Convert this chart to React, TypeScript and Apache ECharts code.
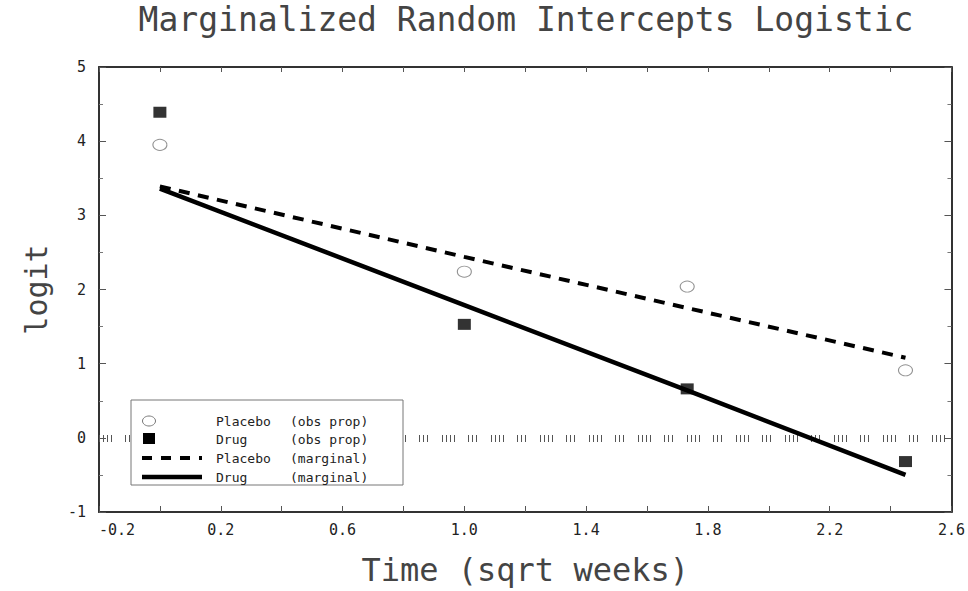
import React, { useEffect, useRef } from 'react';
import * as echarts from 'echarts';

const times = [0, 1, 1.732, 2.449];
const placeboObs = [3.95, 2.24, 2.04, 0.91];
const drugObs = [4.39, 1.53, 0.66, -0.32];
const placeboMarginal = [3.39, 2.44, 1.75, 1.08];
const drugMarginal = [3.36, 1.79, 0.64, -0.5];
const xTickLabels = ['-0.2', '0.2', '0.6', '1.0', '1.4', '1.8', '2.2', '2.6'];
const yTickLabels = ['-1', '0', '1', '2', '3', '4', '5'];
const legendNames = ['Placebo', 'Drug', 'Placebo', 'Drug'];
const legendTags = ['(obs prop)', '(obs prop)', '(marginal)', '(marginal)'];
const titleText = 'Marginalized Random Intercepts Logistic';
const xTitle = 'Time (sqrt weeks)';
const yTitle = 'logit';

const MONO = '"DejaVu Sans Mono", "Liberation Mono", monospace';

export default function App() {
  const ref = useRef<HTMLDivElement>(null);
  useEffect(() => {
    if (!ref.current) return;
    const chart = echarts.init(ref.current, undefined, { renderer: 'svg' });
    const zip = (ys: number[]) => times.map((t, i) => [t, ys[i]]);
    const axisLineStyle = { color: '#333', width: 2 };
    const rugDash = [1, 3, 1, 3, 1, 3, 1, 13, 1, 3, 1, 3, 1, 14];
    const legendRows = [421, 439, 458, 477];
    const legendGraphic: any[] = [
      {
        type: 'rect',
        z: 100,
        shape: { x: 131, y: 400, width: 272, height: 85 },
        style: { fill: '#fff', stroke: '#777', lineWidth: 1 },
      },
      {
        type: 'ellipse',
        z: 101,
        shape: { cx: 149, cy: legendRows[0], rx: 6.5, ry: 5 },
        style: { fill: '#fff', stroke: '#777', lineWidth: 1 },
      },
      {
        type: 'rect',
        z: 101,
        shape: { x: 143, y: legendRows[1] - 6, width: 12, height: 11 },
        style: { fill: '#000' },
      },
      {
        type: 'line',
        z: 101,
        shape: { x1: 142, y1: legendRows[2], x2: 202, y2: legendRows[2] },
        style: { stroke: '#000', lineWidth: 4, lineDash: [10, 9] },
      },
      {
        type: 'line',
        z: 101,
        shape: { x1: 142, y1: legendRows[3], x2: 202, y2: legendRows[3] },
        style: { stroke: '#000', lineWidth: 4.5 },
      },
    ];
    legendNames.forEach((n, i) => {
      legendGraphic.push({
        type: 'text',
        z: 101,
        x: 216,
        y: legendRows[i],
        style: { text: n, fontSize: 13, fontFamily: MONO, fill: '#222', verticalAlign: 'middle' },
      });
      legendGraphic.push({
        type: 'text',
        z: 101,
        x: 290,
        y: legendRows[i],
        style: { text: legendTags[i], fontSize: 13, fontFamily: MONO, fill: '#222', verticalAlign: 'middle' },
      });
    });

    const option: any = {
      animation: false,
      backgroundColor: '#fff',
      title: {
        text: titleText,
        left: 526,
        textAlign: 'center',
        top: 3,
        padding: 0,
        textStyle: { fontFamily: MONO, fontSize: 33, fontWeight: 'normal', color: '#444' },
      },
      grid: { left: 99, right: 16, top: 67, bottom: 77 },
      xAxis: [
        {
          type: 'value',
          min: -0.2,
          max: 2.6,
          interval: 0.2,
          name: xTitle,
          nameLocation: 'middle',
          nameGap: 42,
          nameTextStyle: { fontFamily: MONO, fontSize: 32, color: '#444' },
          axisLine: { show: true, onZero: false, lineStyle: axisLineStyle },
          axisTick: { show: true, inside: true, length: 6, lineStyle: { color: '#555' } },
          splitLine: { show: false },
          axisLabel: {
            margin: 10,
            fontSize: 15,
            fontFamily: MONO,
            color: '#222',
            alignMinLabel: 'left',
            formatter: (v: number) => {
              const s = v.toFixed(1);
              return xTickLabels.includes(s) ? s : '';
            },
          },
        },
        {
          type: 'value',
          position: 'top',
          min: -0.2,
          max: 2.6,
          interval: 0.2,
          axisLine: { show: true, onZero: false, lineStyle: axisLineStyle },
          axisTick: { show: true, inside: true, length: 5, lineStyle: { color: '#555' } },
          axisLabel: { show: false },
          splitLine: { show: false },
        },
      ],
      yAxis: [
        {
          type: 'value',
          min: -1,
          max: 5,
          interval: 1,
          name: yTitle,
          nameLocation: 'middle',
          nameGap: 48,
          nameTextStyle: { fontFamily: MONO, fontSize: 30, color: '#444' },
          axisLine: { show: true, onZero: false, lineStyle: axisLineStyle },
          axisTick: { show: true, inside: true, length: 7, lineStyle: { color: '#555' } },
          minorTick: { show: true, splitNumber: 2, length: 4, lineStyle: { color: '#777' } },
          splitLine: { show: false },
          axisLabel: {
            margin: 13,
            fontSize: 15,
            fontFamily: MONO,
            color: '#222',
            formatter: (v: number) => {
              const s = String(Math.round(v));
              return yTickLabels.includes(s) ? s : '';
            },
          },
        },
        {
          type: 'value',
          position: 'right',
          min: -1,
          max: 5,
          interval: 1,
          axisLine: { show: true, onZero: false, lineStyle: axisLineStyle },
          axisTick: { show: true, inside: true, length: 7, lineStyle: { color: '#555' } },
          minorTick: { show: true, splitNumber: 2, length: 4, lineStyle: { color: '#777' } },
          axisLabel: { show: false },
          splitLine: { show: false },
        },
      ],
      series: [
        {
          name: 'Placebo (obs prop)',
          type: 'scatter',
          data: zip(placeboObs),
          symbol: 'circle',
          symbolSize: [14, 11],
          itemStyle: { color: '#fff', borderColor: '#777', borderWidth: 1 },
          z: 5,
          markLine: {
            silent: true,
            symbol: ['none', 'none'],
            label: { show: false },
            lineStyle: { color: '#555', width: 7, type: rugDash },
            data: [{ yAxis: 0 }],
            z: 1,
          },
        },
        {
          name: 'Drug (obs prop)',
          type: 'scatter',
          data: zip(drugObs),
          symbol: 'rect',
          symbolSize: [13, 11],
          itemStyle: { color: '#000' },
          z: 5,
        },
        {
          name: 'Placebo (marginal)',
          type: 'line',
          data: zip(placeboMarginal),
          symbol: 'none',
          lineStyle: { color: '#000', width: 4, type: [11, 8.5] },
          z: 4,
        },
        {
          name: 'Drug (marginal)',
          type: 'line',
          data: zip(drugMarginal),
          symbol: 'none',
          lineStyle: { color: '#000', width: 4.5 },
          z: 4,
        },
      ],
      graphic: legendGraphic,
    };
    chart.setOption(option);
    return () => chart.dispose();
  }, []);
  return (
    <div
      ref={ref}
      style={{ position: 'fixed', left: 0, top: 0, width: 968, height: 591, background: '#fff' }}
    />
  );
}
